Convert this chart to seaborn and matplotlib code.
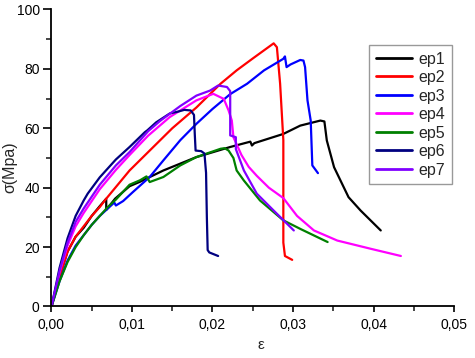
import numpy as np
import pandas as pd
import matplotlib
matplotlib.use('Agg')
import matplotlib.pyplot as plt
from matplotlib.ticker import MultipleLocator, FuncFormatter
import seaborn as sns

# Courbes contrainte / deformation
ep1_x = [0, 0.001, 0.002, 0.003, 0.004, 0.005, 0.006, 0.0068, 0.0068, 0.0079, 0.0097, 0.011,
         0.0139, 0.018, 0.0222, 0.0247, 0.0249, 0.0252, 0.0288, 0.0309, 0.0334, 0.0339, 0.0342,
         0.0351, 0.0369, 0.0384, 0.0409]
ep1_y = [0, 10, 18.5, 23.5, 26.5, 30.5, 33.8, 36.3, 32.5, 36.3, 40.5, 42, 45.8, 50.3, 53.7,
         55.5, 54.2, 55, 58.1, 60.9, 62.6, 62.3, 55.9, 46.9, 36.8, 32.3, 25.6]

ep2_x = [0, 0.001, 0.002, 0.003, 0.004, 0.005, 0.006, 0.0068, 0.0097, 0.0122, 0.015, 0.018,
         0.021, 0.023, 0.025, 0.0276, 0.028, 0.0284, 0.0288, 0.0288, 0.029, 0.0299]
ep2_y = [0, 10, 18.5, 23.5, 27, 30.5, 33.5, 36.3, 45.8, 52.5, 60, 67, 75, 79.5, 83.5, 88.6,
         87.3, 75, 56, 21.5, 17, 15.7]

ep3_x = [0, 0.001, 0.002, 0.003, 0.004, 0.005, 0.006, 0.007, 0.0078, 0.008, 0.0089, 0.0101,
         0.0122, 0.0139, 0.016, 0.018, 0.020, 0.0222, 0.0243, 0.0264, 0.0288, 0.029, 0.0292,
         0.0297, 0.0309, 0.0313, 0.0315, 0.0318, 0.0322, 0.0324, 0.0331]
ep3_y = [0, 8.5, 15.5, 20.5, 24, 27.5, 30.5, 33, 35, 34, 35.5, 38.5, 43.6, 49.2, 56, 61.5,
         66.5, 71.5, 75, 79.5, 83.4, 84.2, 80.6, 81.5, 83, 82.8, 80.6, 69.4, 62.6, 47.5, 44.9]

ep4_x = [0, 0.001, 0.002, 0.003, 0.004, 0.005, 0.006, 0.008, 0.0097, 0.012, 0.0147, 0.018,
         0.0201, 0.0214, 0.022, 0.0224, 0.0226, 0.0236, 0.0245, 0.0255, 0.027, 0.0288, 0.0305,
         0.0326, 0.0355, 0.0397, 0.0434]
ep4_y = [0, 11.5, 20.5, 27, 31.5, 35.5, 39.5, 46, 51, 57.5, 63.8, 69.4, 71.6, 69.9, 66, 62.6,
         57, 51, 47, 44, 40, 36.5, 30.5, 25.6, 22.2, 19.4, 17]

ep5_x = [0, 0.001, 0.002, 0.003, 0.004, 0.005, 0.006, 0.007, 0.008, 0.0097, 0.011, 0.0118,
         0.0122, 0.0139, 0.016, 0.018, 0.021, 0.0215, 0.022, 0.0226, 0.023, 0.0239, 0.0259,
         0.0288, 0.031, 0.0343]
ep5_y = [0, 8.5, 15, 20, 24, 27.5, 30.5, 33.5, 36, 41, 42.5, 43.8, 41.9, 43.6, 47.5, 50.3,
         53.1, 53.3, 52.5, 50, 45.8, 42.4, 35.7, 29, 26, 21.7]

ep6_x = [0, 0.001, 0.002, 0.003, 0.004, 0.0045, 0.006, 0.008, 0.0097, 0.0116, 0.0119, 0.013,
         0.0147, 0.0157, 0.0165, 0.0173, 0.0177, 0.0178, 0.0179, 0.0186, 0.019, 0.0192, 0.0193,
         0.0194, 0.0196, 0.0207]
ep6_y = [0, 13, 23, 30.5, 35.7, 38, 43.5, 49.5, 53.7, 58.7, 59.3, 62, 65, 65.6, 66.2, 66,
         64.5, 58, 52.5, 52.3, 51.5, 45, 30, 19, 18.2, 17]

ep7_x = [0, 0.001, 0.002, 0.003, 0.004, 0.005, 0.006, 0.008, 0.0097, 0.012, 0.0135, 0.0147,
         0.016, 0.018, 0.0197, 0.0207, 0.0218, 0.0222, 0.0222, 0.0229, 0.0229, 0.0239, 0.0255,
         0.0276, 0.0301]
ep7_y = [0, 12, 21.5, 28.5, 33, 37, 41, 47.5, 52, 59, 62.5, 64.9, 67.5, 71, 72.7, 74.4, 73.9,
         72.5, 57.6, 57, 53, 45.8, 38, 32.3, 25.6]

labels = ['ep1', 'ep2', 'ep3', 'ep4', 'ep5', 'ep6', 'ep7']
couleurs = ['#000000', '#ff0000', '#0000ff', '#ff00ff', '#008000', '#000080', '#8000ff']
series_x = [ep1_x, ep2_x, ep3_x, ep4_x, ep5_x, ep6_x, ep7_x]
series_y = [ep1_y, ep2_y, ep3_y, ep4_y, ep5_y, ep6_y, ep7_y]

# DataFrame long pour seaborn
rows = []
for lab, xs, ys in zip(labels, series_x, series_y):
    for i, (a, b) in enumerate(zip(xs, ys)):
        rows.append({'ep': lab, 'ordre': i, 'eps': a, 'sigma': b})
df = pd.DataFrame(rows)

sns.set_style('ticks')
plt.rcParams['font.family'] = ['Liberation Sans', 'DejaVu Sans']

fig = plt.figure(figsize=(4.75, 3.58), dpi=100)
ax = fig.add_axes([0.1084, 0.1439, 0.8474, 0.8296])

sns.lineplot(data=df, x='eps', y='sigma', hue='ep', hue_order=labels,
             palette=dict(zip(labels, couleurs)), sort=False, estimator=None,
             linewidth=1.6, ax=ax)

ax.set_xlim(0, 0.05)
ax.set_ylim(0, 100)
ax.xaxis.set_major_locator(MultipleLocator(0.01))
ax.xaxis.set_minor_locator(MultipleLocator(0.005))
ax.yaxis.set_major_locator(MultipleLocator(20))
ax.yaxis.set_minor_locator(MultipleLocator(10))
ax.xaxis.set_major_formatter(FuncFormatter(lambda v, p: f'{v:.2f}'.replace('.', ',')))
ax.yaxis.set_major_formatter(FuncFormatter(lambda v, p: f'{v:.0f}'))

for s in ['top', 'right']:
    ax.spines[s].set_visible(False)
for s in ['left', 'bottom']:
    ax.spines[s].set_linewidth(1.3)
    ax.spines[s].set_color('black')
ax.tick_params(axis='x', which='major', direction='out', length=4, width=1.2, pad=4,
               labelsize=10, colors='black')
ax.tick_params(axis='y', which='major', direction='out', length=6, width=1.2, pad=2.5,
               labelsize=10, colors='black')
ax.tick_params(which='minor', direction='out', length=3.5, width=1.2)

ax.set_xlabel('ε', fontsize=11)
ax.set_ylabel('σ(Mpa)', fontsize=11.5)
ax.xaxis.set_label_coords(0.52, -0.106)
ax.yaxis.set_label_coords(-0.085, 0.47)

leg = ax.legend(loc='upper right', bbox_to_anchor=(0.995, 0.88), fontsize=11.5,
                frameon=True, fancybox=False, edgecolor='#808080', handlelength=2.3,
                labelspacing=0.22, handletextpad=0.4, borderpad=0.4, borderaxespad=0)
leg.get_frame().set_linewidth(1.0)
for h in leg.get_lines():
    h.set_linewidth(2)

fig.savefig('out.png', dpi=100)
